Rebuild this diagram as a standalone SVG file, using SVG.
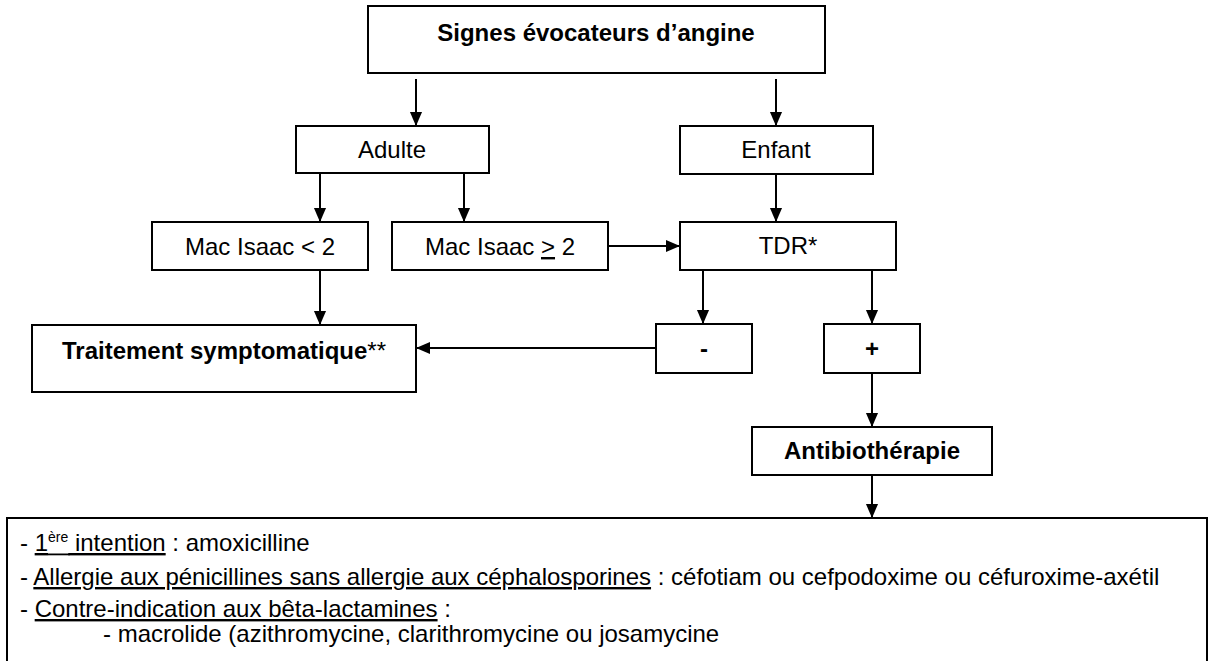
<svg xmlns="http://www.w3.org/2000/svg" width="1210" height="661" viewBox="0 0 1210 661">
  <defs>
    <marker id="arr" markerWidth="14" markerHeight="14" viewBox="0 0 15 13" refX="15" refY="6.5" orient="auto" markerUnits="userSpaceOnUse">
      <path d="M0,0 L15,6.5 L0,13 Z" fill="#000"/>
    </marker>
    <style>
      .box { fill: #fff; stroke: #000; stroke-width: 2; }
      .t { font-family: "Liberation Sans", Arial, sans-serif; font-size: 24px; fill: #000; }
      .c { text-anchor: middle; }
      .b { font-weight: bold; }
      .u { text-decoration: underline; }
      .conn line { stroke: #000; stroke-width: 2; marker-end: url(#arr); }
    </style>
  </defs>
  <rect width="1210" height="661" fill="#fff"/>

  <g id="connectors" class="conn">
    <line x1="416" y1="79" x2="416" y2="126"/>
    <line x1="776" y1="79" x2="776" y2="126"/>
    <line x1="320" y1="174" x2="320" y2="222"/>
    <line x1="464" y1="174" x2="464" y2="222"/>
    <line x1="776" y1="174" x2="776" y2="222"/>
    <line x1="608" y1="246" x2="680" y2="246"/>
    <line x1="320" y1="270" x2="320" y2="325"/>
    <line x1="703" y1="270" x2="703" y2="324"/>
    <line x1="872" y1="270" x2="872" y2="324"/>
    <line x1="656" y1="348" x2="416" y2="348"/>
    <line x1="872" y1="373" x2="872" y2="427"/>
    <line x1="872" y1="475" x2="872" y2="518"/>
  </g>

  <g id="n-signes">
    <rect class="box" x="368" y="6" width="457" height="67"/>
    <text class="t c b" x="596" y="41">Signes évocateurs d’angine</text>
  </g>
  <g id="n-adulte">
    <rect class="box" x="296" y="126" width="193" height="47"/>
    <text class="t c" x="392" y="158">Adulte</text>
  </g>
  <g id="n-enfant">
    <rect class="box" x="680" y="126" width="193" height="48"/>
    <text class="t c" x="776" y="158">Enfant</text>
  </g>
  <g id="n-mac-lt">
    <rect class="box" x="152" y="222" width="216" height="48"/>
    <text class="t c" x="260" y="255">Mac Isaac &lt; 2</text>
  </g>
  <g id="n-mac-ge">
    <rect class="box" x="392" y="222" width="216" height="48"/>
    <text class="t c" x="500" y="255">Mac Isaac <tspan class="u">&gt;</tspan> 2</text>
  </g>
  <g id="n-tdr">
    <rect class="box" x="680" y="222" width="216" height="48"/>
    <text class="t c" x="788" y="254">TDR*</text>
  </g>
  <g id="n-traitement">
    <rect class="box" x="32" y="325" width="384" height="67"/>
    <text class="t c" x="224" y="359"><tspan class="b">Traitement symptomatique</tspan>**</text>
  </g>
  <g id="n-neg">
    <rect class="box" x="656" y="324" width="96" height="49"/>
    <text class="t c b" x="704" y="357">-</text>
  </g>
  <g id="n-pos">
    <rect class="box" x="824" y="324" width="96" height="49"/>
    <text class="t c b" x="872" y="357">+</text>
  </g>
  <g id="n-antibio">
    <rect class="box" x="752" y="427" width="240" height="48"/>
    <text class="t c b" x="872" y="459">Antibiothérapie</text>
  </g>
  <g id="n-traitements">
    <rect class="box" x="7" y="518" width="1200" height="170"/>
    <text class="t" x="20" y="551">- <tspan class="u">1</tspan><tspan font-size="14" dy="-9">ère</tspan><tspan class="u" dy="9"> intention</tspan> : amoxicilline</text>
    <line x1="48" y1="554.4" x2="69.7" y2="554.4" stroke="#000" stroke-width="1.8"/>
    <text class="t" x="20" y="585">- <tspan class="u">Allergie aux pénicillines sans allergie aux céphalosporines</tspan> : céfotiam ou cefpodoxime ou céfuroxime-axétil</text>
    <text class="t" x="20" y="617">- <tspan class="u">Contre-indication aux bêta-lactamines</tspan> :</text>
    <text class="t" x="103" y="642">- macrolide (azithromycine, clarithromycine ou josamycine</text>
  </g>
</svg>
